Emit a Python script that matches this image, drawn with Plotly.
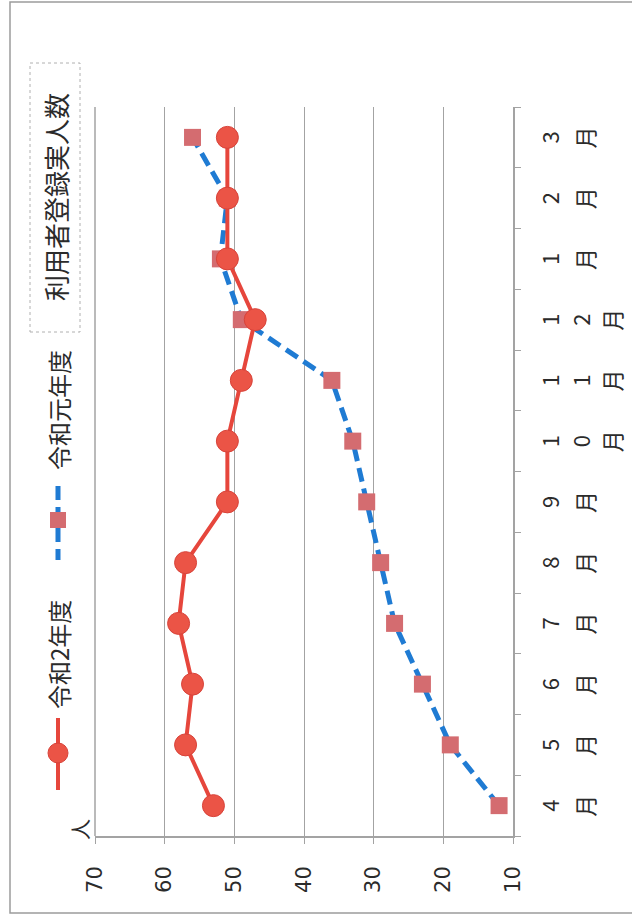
import plotly.graph_objects as go

# ---- data ----
months = ["4月", "5月", "6月", "7月", "8月", "9月", "10月", "11月", "12月", "1月", "2月", "3月"]
r2_values = [53, 57, 56, 58, 57, 51, 51, 49, 47, 51, 51, 51]      # 令和2年度
r1_values = [12, 19, 23, 27, 29, 31, 33, 36, 49, 52, 51, 56]      # 令和元年度
value_ticks = [70, 60, 50, 40, 30, 20, 10]
series_names = ["令和2年度", "令和元年度"]
title_text = "利用者登録実人数"
unit_text = "人"

# ---- layout geometry (pixels) ----
W, H = 632, 918
L, R, T, B = 95, 513, 107, 836

def px(x):
    return (x - L) / (R - L)

def py(y):
    return (B - y) / (B - T)

FONT = "Noto Sans CJK JP, DejaVu Sans, sans-serif"
RED_LINE = "#E6463C"
RED_MK = "#EB5446"
BLUE = "#1F7BD3"
PINK = "#D46C70"
GRID = "#A3A3A3"
TXT = "#2b2b2b"

fig = go.Figure()

fig.add_trace(go.Scatter(
    x=r1_values, y=months, mode="lines+markers", name=series_names[1],
    line=dict(color=BLUE, width=5, dash="14px,7px"),
    marker=dict(symbol="square", size=17, color=PINK, line=dict(width=0)),
    showlegend=False,
))
fig.add_trace(go.Scatter(
    x=r2_values, y=months, mode="lines+markers", name=series_names[0],
    line=dict(color=RED_LINE, width=4),
    marker=dict(symbol="circle", size=22, color=RED_MK, line=dict(color="#D8433A", width=1)),
    showlegend=False,
))

shapes = []
annotations = []

# gridline at the range end (value 70), drawn on the left plot edge
shapes.append(dict(type="line", xref="paper", yref="paper", x0=0, x1=0,
                   y0=0, y1=1, line=dict(color=GRID, width=1.5), layer="above"))

# outer border
shapes.append(dict(type="rect", xref="paper", yref="paper",
                   x0=px(10), x1=px(700), y0=py(913), y1=py(2),
                   line=dict(color="#9c9c9c", width=1.5), fillcolor="rgba(0,0,0,0)", layer="below"))
# title box
shapes.append(dict(type="rect", xref="paper", yref="paper",
                   x0=px(30), x1=px(80), y0=py(332), y1=py(63),
                   line=dict(color="#b0b0b0", width=1, dash="dot"), fillcolor="white"))
annotations.append(dict(xref="paper", yref="paper", x=px(55), y=py(197), text=title_text,
                        showarrow=False, textangle=-90, font=dict(family=FONT, size=26, color=TXT),
                        xanchor="center", yanchor="middle"))

# legend: 令和2年度
shapes.append(dict(type="line", xref="paper", yref="paper", x0=px(58), x1=px(58),
                   y0=py(718), y1=py(790), line=dict(color=RED_LINE, width=4)))
shapes.append(dict(type="circle", xref="paper", yref="paper", x0=px(48), x1=px(68),
                   y0=py(763), y1=py(743), fillcolor=RED_MK, line=dict(color="#D8433A", width=1)))
annotations.append(dict(xref="paper", yref="paper", x=px(58), y=py(655), text=series_names[0],
                        showarrow=False, textangle=-90, font=dict(family=FONT, size=24, color=TXT),
                        xanchor="center", yanchor="middle"))
# legend: 令和元年度
shapes.append(dict(type="line", xref="paper", yref="paper", x0=px(58), x1=px(58),
                   y0=py(486), y1=py(560), line=dict(color=BLUE, width=5, dash="14px,7px")))
shapes.append(dict(type="rect", xref="paper", yref="paper", x0=px(50), x1=px(66),
                   y0=py(528), y1=py(512), fillcolor=PINK, line=dict(width=0)))
annotations.append(dict(xref="paper", yref="paper", x=px(58), y=py(410), text=series_names[1],
                        showarrow=False, textangle=-90, font=dict(family=FONT, size=24, color=TXT),
                        xanchor="center", yanchor="middle"))

# unit label
annotations.append(dict(xref="paper", yref="paper", x=px(79), y=py(830), text=unit_text,
                        showarrow=False, textangle=-90, font=dict(family=FONT, size=21, color=TXT),
                        xanchor="center", yanchor="middle"))

# month labels: characters stacked (rotated chart)
for m in months:
    step = 35 if len(m) == 2 else 31
    for i, ch in enumerate(m):
        annotations.append(dict(xref="paper", yref="y", x=px(549 + step * i), y=m, text=ch,
                                showarrow=False, textangle=-90,
                                font=dict(family=FONT, size=22, color=TXT),
                                xanchor="center", yanchor="middle"))

fig.update_layout(
    width=W, height=H,
    margin=dict(l=L, r=W - R, t=T, b=H - B, pad=0),
    paper_bgcolor="white", plot_bgcolor="white",
    shapes=shapes, annotations=annotations,
    showlegend=False,
    xaxis=dict(
        range=[70, 10], tickvals=value_ticks, ticktext=[str(v) for v in value_ticks],
        tickangle=-90, showgrid=True, gridcolor=GRID, gridwidth=1,
        showline=True, linecolor=GRID, linewidth=1.5,
        ticks="outside", ticklen=6, tickcolor=GRID,
        tickfont=dict(family="DejaVu Sans", size=21, color=TXT),
        ticklabelstandoff=14, zeroline=False, fixedrange=True,
    ),
    yaxis=dict(
        type="category", categoryorder="array", categoryarray=months,
        range=[-0.5, len(months) - 0.5], side="right",
        showticklabels=False, showgrid=False, zeroline=False,
        showline=True, linecolor=GRID, linewidth=1.5,
        ticks="outside", ticklen=6, tickcolor=GRID, tickson="boundaries",
        fixedrange=True,
    ),
)

fig.write_html("out.html")
